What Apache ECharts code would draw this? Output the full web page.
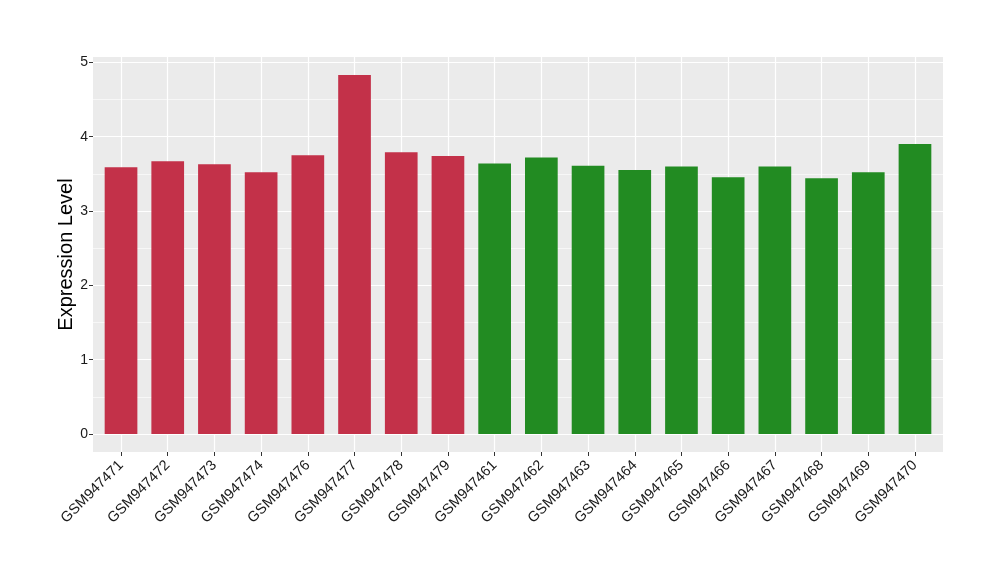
<!DOCTYPE html>
<html><head><meta charset="utf-8">
<script src="https://cdn.jsdelivr.net/npm/echarts@6/dist/echarts.min.js"></script>
<style>html,body{margin:0;padding:0;background:#fff}#c{width:1000px;height:580px}</style>
</head><body><div id="c"></div>
<script>
const categories = ["GSM947471","GSM947472","GSM947473","GSM947474","GSM947476","GSM947477","GSM947478","GSM947479","GSM947461","GSM947462","GSM947463","GSM947464","GSM947465","GSM947466","GSM947467","GSM947468","GSM947469","GSM947470"];
const values = [3.59,3.67,3.63,3.52,3.75,4.83,3.79,3.74,3.64,3.72,3.61,3.55,3.60,3.455,3.60,3.44,3.52,3.90];
const groups = ["a","a","a","a","a","a","a","a","b","b","b","b","b","b","b","b","b","b"];
const groupColors = {a:"#C33149", b:"#228B22"};
const yTicks = [0,1,2,3,4,5];

const FONT = "Liberation Sans";
const panel = {left:93, right:943, top:57, bottom:452};
const n = categories.length;
const band = (panel.right - panel.left) / (n - 1 + 1.2);
const inset = 0.1 * band;
const yMin = -0.2415, yMax = 4.83 + 0.2415;
const xPositions = categories.map((c,i)=>i);

const chart = echarts.init(document.getElementById('c'), null, {renderer:'canvas'});
chart.setOption({
  animation:false,
  backgroundColor:'#fff',
  grid:[
    {left:panel.left, right:1000-panel.right, top:panel.top, bottom:580-panel.bottom, show:true, backgroundColor:'#EBEBEB', borderWidth:0},
    {left:panel.left+inset, right:1000-panel.right+inset, top:panel.top, bottom:580-panel.bottom}
  ],
  xAxis:[
    {gridIndex:0, type:'value', min:-0.6, max:n-1+0.6,
     axisLine:{show:false, onZero:false}, axisLabel:{show:false}, axisTick:{show:false, customValues:xPositions},
     splitLine:{show:true, lineStyle:{color:'#fff', width:1.2}}},
    {gridIndex:1, type:'category', data:categories,
     axisLine:{show:false, onZero:false},
     axisTick:{show:true, alignWithLabel:true, length:4, lineStyle:{color:'#333', width:1}},
     axisLabel:{rotate:45, fontFamily:FONT, fontSize:14.5, color:'#1a1a1a', margin:11, interval:0},
     splitLine:{show:false}
    }
  ],
  yAxis:[
    {gridIndex:0, type:'value', min:yMin, max:yMax, splitNumber:5,
     name:'Expression Level', nameLocation:'middle', nameGap:17, nameMoveOverlap:false,
     nameTextStyle:{fontFamily:FONT, fontSize:20, color:'#000'},
     axisLine:{show:false, onZero:false},
     axisTick:{show:true, length:4, lineStyle:{color:'#333'}, customValues:yTicks},
     axisLabel:{fontFamily:FONT, fontSize:14, color:'#1a1a1a', margin:5, customValues:yTicks,
       formatter:v=>String(v)},
     splitLine:{show:true, lineStyle:{color:'#fff', width:1.2}},
     minorTick:{show:false, splitNumber:2},
     minorSplitLine:{show:true, lineStyle:{color:'#fff', width:0.6}}
    },
    {gridIndex:1, type:'value', min:yMin, max:yMax, show:false, splitLine:{show:false}, axisLine:{onZero:false}}
  ],
  series:[{
    type:'bar', xAxisIndex:1, yAxisIndex:1, barWidth:'70%',
    data: values.map((v,i)=>({value:v, itemStyle:{color:groupColors[groups[i]]}}))
  }]
});
</script></body></html>
